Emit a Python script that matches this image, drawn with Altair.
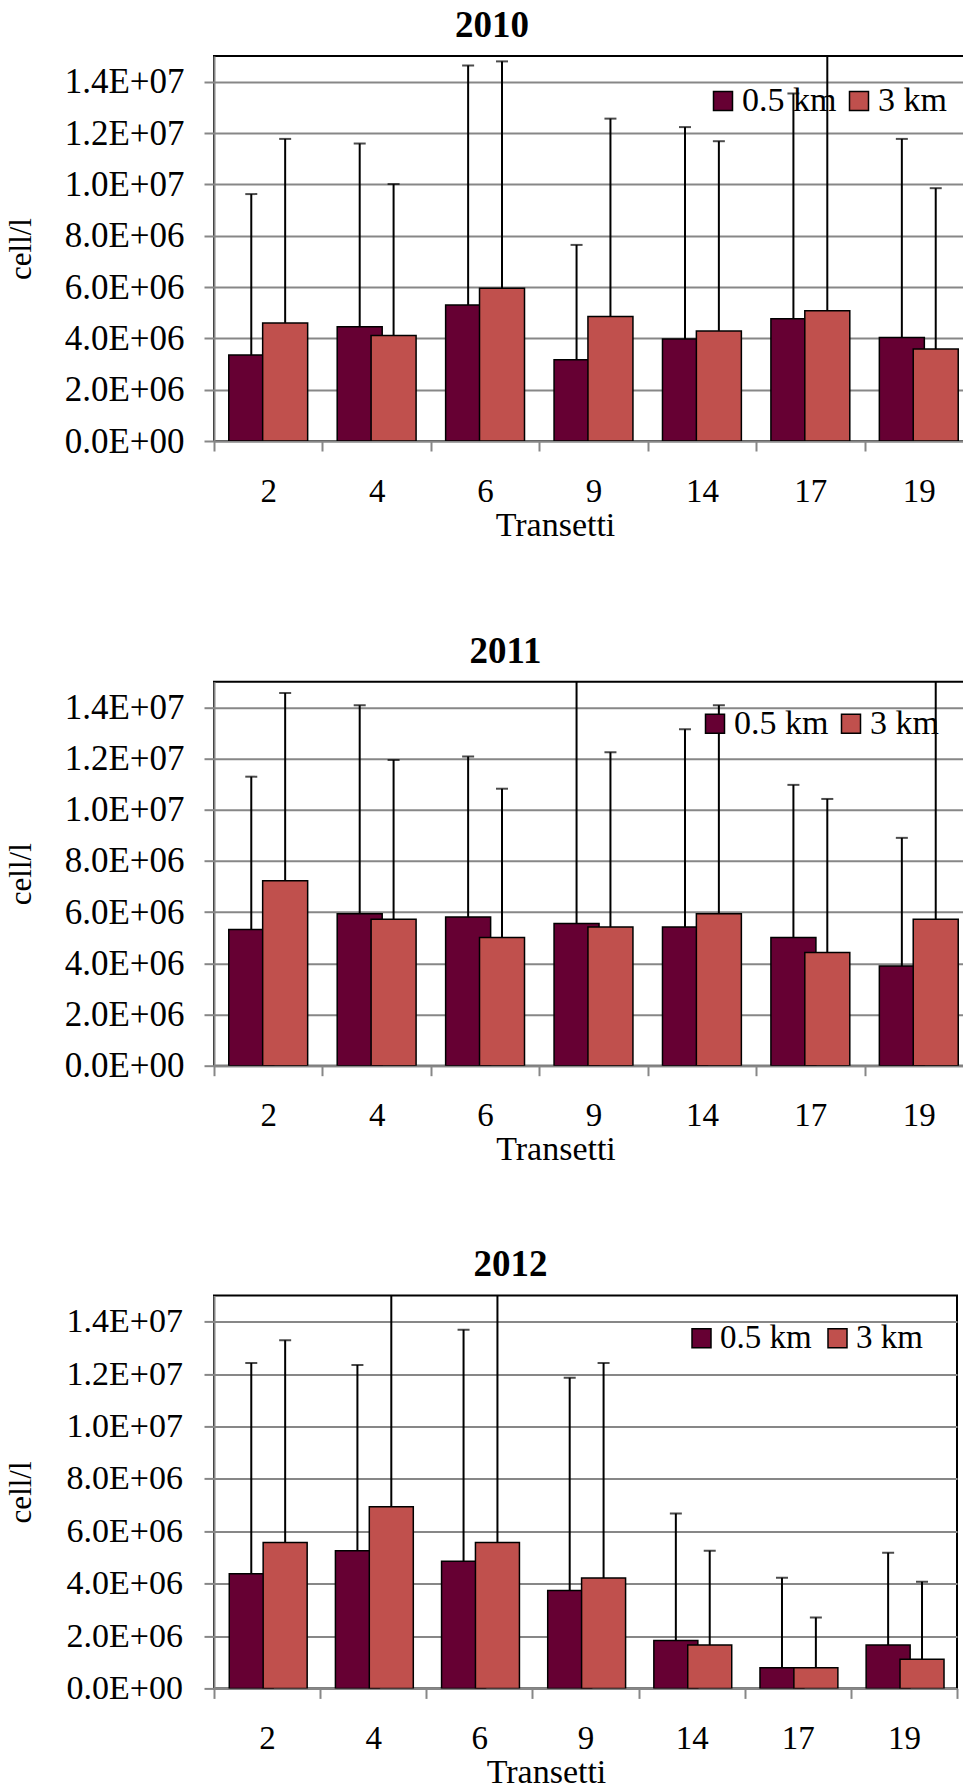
import altair as alt
import pandas as pd

# ---------------- data (values in millions of cell/l) ----------------
transects = ["2", "4", "6", "9", "14", "17", "19"]
series = ["0.5 km", "3 km"]
colors = ["#660033", "#C0504D"]

mean_2010_05 = [3.35, 4.45, 5.30, 3.17, 3.97, 4.76, 4.03]
mean_2010_3 = [4.60, 4.11, 5.95, 4.85, 4.29, 5.07, 3.58]
sd_2010_05 = [6.27, 7.14, 9.33, 4.47, 8.26, 8.78, 7.74]
sd_2010_3 = [7.17, 5.90, 8.84, 7.71, 7.39, 11.40, 6.27]

mean_2011_05 = [5.32, 5.94, 5.81, 5.55, 5.42, 5.01, 3.89]
mean_2011_3 = [7.22, 5.72, 5.01, 5.42, 5.94, 4.42, 5.72]
sd_2011_05 = [5.97, 8.14, 6.27, 11.00, 7.72, 5.96, 5.01]
sd_2011_3 = [7.34, 6.22, 5.81, 6.82, 8.14, 6.00, 11.30]

mean_2012_05 = [4.38, 5.25, 4.85, 3.74, 1.83, 0.79, 1.66]
mean_2012_3 = [5.57, 6.93, 5.57, 4.21, 1.66, 0.79, 1.11]
sd_2012_05 = [8.04, 7.09, 8.84, 8.12, 4.85, 3.43, 3.52]
sd_2012_3 = [7.72, 9.60, 11.40, 8.21, 3.59, 1.92, 2.96]

y_ticks = [0, 2e6, 4e6, 6e6, 8e6, 1e7, 1.2e7, 1.4e7]
Y_MAX = 1.5e7

FONT = "Liberation Serif"
GRAY = "#878787"

LABEL_EXPR = ("datum.value == 0 ? '0.0E+00' : (datum.value >= 1e7 ? "
              "format(datum.value / 1e7, '.1f') + 'E+07' : "
              "format(datum.value / 1e6, '.1f') + 'E+06')")


def panel(title_text, title_dx, m05, m3, s05, s3, w, h, bar_w,
          legend_x, legend_y, x_title_x, y_label_size=35,
          y_label_pad=20, y_title_pad=27, legend_size=34, legend_colpad=5,
          title_line_height=None):
    df = pd.DataFrame({
        "transetto": transects * 2,
        "serie": [series[0]] * len(transects) + [series[1]] * len(transects),
        "media": [v * 1e6 for v in m05 + m3],
        "ds": [v * 1e6 for v in s05 + s3],
    })
    base = alt.Chart(df).transform_calculate(
        sup="datum.media + datum.ds",
        sup_c="min(datum.media + datum.ds, %g)" % Y_MAX,
    )

    x_axis = alt.Axis(title="Transetti", titleX=x_title_x)
    x = alt.X("transetto:N", sort=transects,
              scale=alt.Scale(paddingInner=0, paddingOuter=0), axis=x_axis)
    xo = alt.XOffset("serie:N", sort=series,
                     scale=alt.Scale(paddingInner=0, paddingOuter=0.6))
    y_axis = alt.Axis(title="cell/l", values=y_ticks, labelExpr=LABEL_EXPR,
                      labelFontSize=y_label_size, labelPadding=y_label_pad,
                      titlePadding=y_title_pad)
    y_scale = alt.Scale(domain=[0, Y_MAX], nice=False)

    color = alt.Color(
        "serie:N", sort=series,
        scale=alt.Scale(domain=series, range=colors),
        legend=alt.Legend(title=None, orient="none", direction="horizontal",
                          legendX=legend_x, legendY=legend_y,
                          symbolType="square", symbolSize=361,
                          symbolStrokeColor="black", symbolStrokeWidth=1.5,
                          symbolOpacity=1,
                          labelFont=FONT, labelFontSize=legend_size,
                          labelColor="black",
                          labelOffset=2, columnPadding=legend_colpad, padding=0),
    )

    bars = base.mark_bar(width=bar_w, stroke="black", strokeWidth=1.5,
                         clip=True).encode(
        x=x, xOffset=xo,
        y=alt.Y("media:Q", scale=y_scale, axis=y_axis),
        color=color,
    )
    rules = base.mark_rule(color="black", strokeWidth=2, clip=True).encode(
        x=x, xOffset=xo,
        y=alt.Y("media:Q", scale=y_scale, axis=y_axis),
        y2="sup_c:Q",
    )
    caps = base.transform_filter("datum.sup <= %g" % Y_MAX).mark_tick(
        color="black", thickness=2, size=12, orient="horizontal", clip=True
    ).encode(
        x=x, xOffset=xo,
        y=alt.Y("sup:Q", scale=y_scale, axis=y_axis),
    )
    tp = dict(text=title_text, dx=title_dx, font=FONT, fontSize=37,
              fontWeight="bold", color="black", anchor="middle", offset=11)
    if title_line_height is not None:
        tp["lineHeight"] = title_line_height
    return alt.layer(bars, rules, caps).properties(
        width=w, height=h, title=alt.TitleParams(**tp))


p1 = panel("2010", -101.5, mean_2010_05, mean_2010_3, sd_2010_05, sd_2010_3,
           759, 385, 45, 492, 28, 341)
p2 = panel(["", "2011"], -88, mean_2011_05, mean_2011_3, sd_2011_05, sd_2011_3,
           759, 384, 45, 484, 25, 341.5, title_line_height=10.1)
p3 = panel("2012", -75, mean_2012_05, mean_2012_3, sd_2012_05, sd_2012_3,
           743, 393, 44, 471, 26, 332, y_label_size=34, y_label_pad=21.6,
           y_title_pad=28.5, legend_size=33, legend_colpad=9)

chart = alt.concat(p1, p2, p3, columns=1, spacing=77.7, align="none").resolve_scale(
    color="independent"
).resolve_legend(color="independent").properties(
    padding={"left": -4, "top": -2, "right": -12, "bottom": 0}
).configure(background="white").configure_view(
    stroke="black", strokeWidth=2
).configure_axis(
    labelFont=FONT, labelColor="black", labelFontSize=33,
    titleFont=FONT, titleColor="black", titleFontWeight="normal",
    domainColor=GRAY, domainWidth=2, tickColor=GRAY, tickWidth=2, tickSize=10,
    gridColor=GRAY, gridWidth=2,
).configure_axisX(
    grid=False, labelAngle=0, tickBand="extent", labelPadding=24,
    titlePadding=0, titleFontSize=34,
).configure_axisY(
    grid=True, titleFontSize=31, titleFont=FONT,
).configure_legend(
    labelFont=FONT,
).configure_title(
    font=FONT,
)

chart.save("out.html", embed_options={"renderer": "svg", "actions": False})
